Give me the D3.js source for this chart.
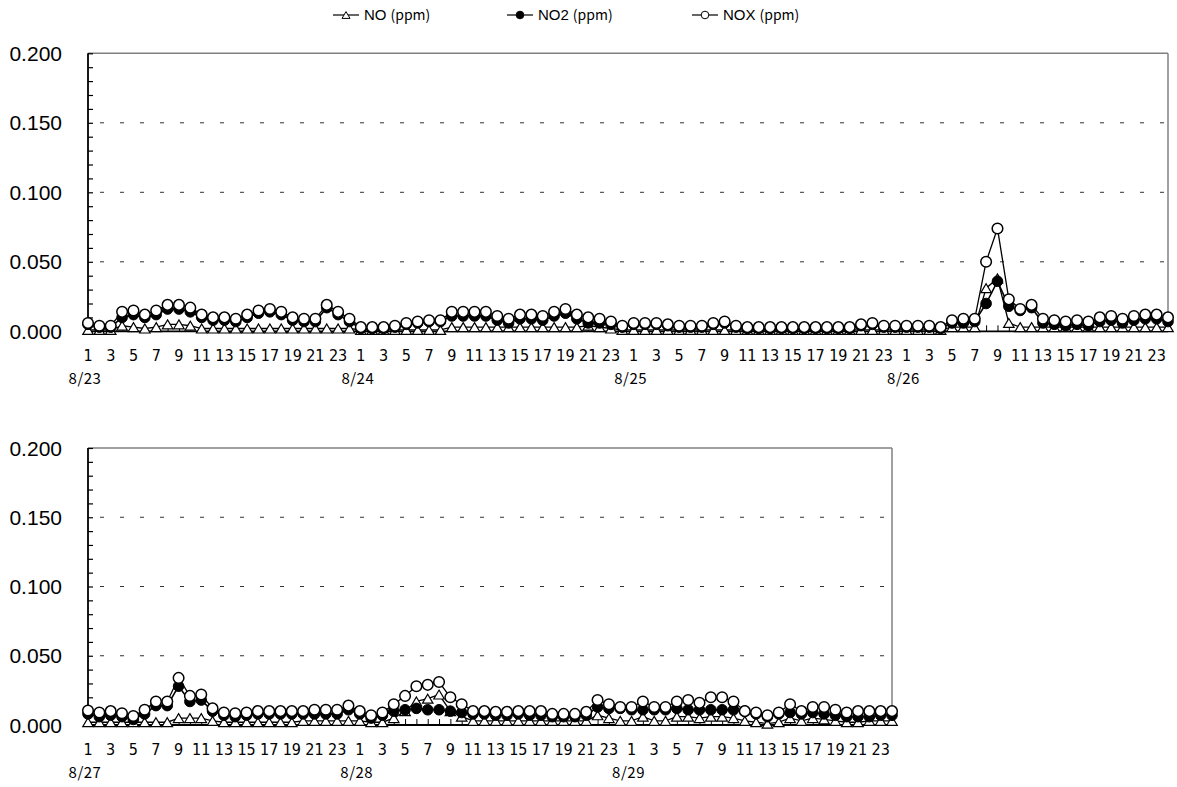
<!DOCTYPE html>
<html>
<head>
<meta charset="utf-8">
<script src="https://cdn.jsdelivr.net/npm/d3@7"></script>
<style>
  body { margin: 0; background: #fff; }
  svg { display: block; }
</style>
</head>
<body>
<div id="chart"></div>
<script>
// hours shown under each point (odd ones only get a label)
const hours = d3.range(1, 25);
const datesTop = ['8/23', '8/24', '8/25', '8/26'];
const datesBottom = ['8/27', '8/28', '8/29'];
const yTicks = [0, 0.05, 0.10, 0.15, 0.20];

// 8/23 - 8/26, hourly (ppm)
const noTop = [
  0.001, 0.001, 0.001, 0.004, 0.003, 0.002, 0.003, 0.005, 0.005, 0.004, 0.002, 0.002,
  0.002, 0.002, 0.002, 0.002, 0.002, 0.002, 0.002, 0.002, 0.002, 0.002, 0.002, 0.002,
  0.001, 0.001, 0.001, 0.001, 0.001, 0.001, 0.001, 0.001, 0.003, 0.003, 0.003, 0.003,
  0.003, 0.003, 0.003, 0.003, 0.003, 0.003, 0.003, 0.003, 0.004, 0.003, 0.002, 0.001,
  0.001, 0.001, 0.001, 0.001, 0.001, 0.001, 0.001, 0.001, 0.001, 0.001, 0.001, 0.001,
  0.001, 0.001, 0.001, 0.001, 0.001, 0.001, 0.001, 0.001, 0.001, 0.001, 0.001, 0.001,
  0.001, 0.001, 0.001, 0.001, 0.003, 0.003, 0.003, 0.031, 0.038, 0.006, 0.003, 0.003,
  0.003, 0.003, 0.003, 0.003, 0.003, 0.003, 0.003, 0.003, 0.003, 0.003, 0.003, 0.003
];
const no2Top = [
  0.005, 0.003, 0.003, 0.010, 0.012, 0.010, 0.012, 0.016, 0.016, 0.014, 0.010, 0.008,
  0.008, 0.007, 0.010, 0.013, 0.014, 0.012, 0.008, 0.007, 0.007, 0.017, 0.012, 0.007,
  0.002, 0.002, 0.002, 0.003, 0.005, 0.006, 0.007, 0.007, 0.011, 0.011, 0.011, 0.011,
  0.008, 0.006, 0.009, 0.009, 0.008, 0.011, 0.013, 0.009, 0.006, 0.006, 0.005, 0.003,
  0.005, 0.005, 0.005, 0.004, 0.003, 0.003, 0.003, 0.005, 0.006, 0.003, 0.002, 0.002,
  0.002, 0.002, 0.002, 0.002, 0.002, 0.002, 0.002, 0.002, 0.004, 0.005, 0.003, 0.003,
  0.003, 0.003, 0.003, 0.002, 0.006, 0.006, 0.007, 0.020, 0.036, 0.018, 0.015, 0.017,
  0.006, 0.005, 0.004, 0.005, 0.004, 0.007, 0.008, 0.006, 0.008, 0.009, 0.009, 0.007
];
const noxTop = [
  0.006, 0.004, 0.004, 0.014, 0.015, 0.012, 0.015, 0.019, 0.019, 0.017, 0.012, 0.010,
  0.010, 0.009, 0.012, 0.015, 0.016, 0.014, 0.010, 0.009, 0.009, 0.019, 0.014, 0.009,
  0.003, 0.003, 0.003, 0.004, 0.006, 0.007, 0.008, 0.008, 0.014, 0.014, 0.014, 0.014,
  0.011, 0.009, 0.012, 0.012, 0.011, 0.014, 0.016, 0.012, 0.010, 0.009, 0.007, 0.004,
  0.006, 0.006, 0.006, 0.005, 0.004, 0.004, 0.004, 0.006, 0.007, 0.004, 0.003, 0.003,
  0.003, 0.003, 0.003, 0.003, 0.003, 0.003, 0.003, 0.003, 0.005, 0.006, 0.004, 0.004,
  0.004, 0.004, 0.004, 0.003, 0.008, 0.009, 0.009, 0.050, 0.074, 0.023, 0.016, 0.019,
  0.009, 0.008, 0.007, 0.008, 0.007, 0.010, 0.011, 0.009, 0.011, 0.012, 0.012, 0.010
];

// 8/27 - 8/29, hourly (ppm)
const noBottom = [
  0.002, 0.002, 0.002, 0.002, 0.002, 0.002, 0.002, 0.002, 0.005, 0.005, 0.005, 0.003,
  0.002, 0.002, 0.002, 0.002, 0.002, 0.002, 0.002, 0.003, 0.003, 0.003, 0.003, 0.003,
  0.003, 0.002, 0.002, 0.005, 0.010, 0.017, 0.019, 0.022, 0.010, 0.006, 0.003, 0.003,
  0.003, 0.003, 0.003, 0.003, 0.003, 0.003, 0.003, 0.003, 0.003, 0.007, 0.005, 0.003,
  0.003, 0.006, 0.003, 0.003, 0.006, 0.006, 0.005, 0.006, 0.006, 0.005, 0.003, 0.002,
  0.001, 0.002, 0.005, 0.003, 0.005, 0.004, 0.003, 0.002, 0.002, 0.003, 0.003, 0.003
];
const no2Bottom = [
  0.008, 0.006, 0.007, 0.006, 0.004, 0.008, 0.014, 0.014, 0.028, 0.017, 0.018, 0.010,
  0.007, 0.006, 0.007, 0.008, 0.008, 0.008, 0.008, 0.008, 0.008, 0.008, 0.008, 0.011,
  0.008, 0.005, 0.007, 0.010, 0.011, 0.012, 0.011, 0.011, 0.010, 0.009, 0.008, 0.008,
  0.007, 0.007, 0.008, 0.007, 0.007, 0.006, 0.006, 0.006, 0.007, 0.013, 0.012, 0.012,
  0.011, 0.011, 0.011, 0.011, 0.012, 0.011, 0.011, 0.011, 0.011, 0.011, 0.010, 0.008,
  0.006, 0.008, 0.009, 0.008, 0.009, 0.008, 0.007, 0.006, 0.006, 0.006, 0.007, 0.007
];
const noxBottom = [
  0.0105, 0.009, 0.010, 0.0085, 0.0065, 0.011, 0.017, 0.017, 0.034, 0.021, 0.022, 0.012,
  0.009, 0.0085, 0.009, 0.010, 0.010, 0.010, 0.010, 0.010, 0.011, 0.011, 0.011, 0.014,
  0.010, 0.007, 0.009, 0.015, 0.021, 0.028, 0.029, 0.031, 0.020, 0.015, 0.010, 0.010,
  0.0095, 0.0095, 0.010, 0.010, 0.010, 0.008, 0.008, 0.008, 0.0095, 0.018, 0.015, 0.013,
  0.013, 0.017, 0.013, 0.013, 0.017, 0.018, 0.016, 0.020, 0.020, 0.017, 0.010, 0.009,
  0.007, 0.009, 0.015, 0.010, 0.013, 0.013, 0.011, 0.009, 0.010, 0.010, 0.010, 0.010
];

const W = 1177, H = 787;
const svg = d3.select('#chart').append('svg').attr('width', W).attr('height', H);

const numFont = "'Liberation Sans', Arial, sans-serif";
const narrowFont = "'Liberation Sans Narrow', 'Arial Narrow', 'DejaVu Sans Condensed', sans-serif";
const jpFont = "'Noto Sans CJK JP', 'Noto Sans', sans-serif";

function trianglePath(cx, cy, s) {
  const h = s * 0.85;
  return `M${cx},${cy - h / 2}L${cx + s / 2},${cy + h / 2}L${cx - s / 2},${cy + h / 2}Z`;
}

function panel(opts) {
  const { left, right, top, bottom, dates, no, no2, nox } = opts;
  const n = no.length;
  const g = svg.append('g');
  const x = d3.scalePoint().domain(d3.range(n)).range([left, right]);
  const y = d3.scaleLinear().domain([0, 0.2]).range([bottom, top]);

  // dashed gridlines
  g.selectAll('.grid').data(yTicks.filter(d => d > 0 && d < 0.2)).enter().append('line')
    .attr('x1', left).attr('x2', right).attr('y1', d => y(d)).attr('y2', d => y(d))
    .attr('stroke', '#333').attr('stroke-width', 1).attr('stroke-dasharray', '4,16')
    .attr('stroke-dashoffset', -12);

  // frame: top + right grey, left + bottom black
  g.append('line').attr('x1', left).attr('x2', right).attr('y1', y(0.2)).attr('y2', y(0.2))
    .attr('stroke', '#808080').attr('stroke-width', 1.5);
  g.append('line').attr('x1', right).attr('x2', right).attr('y1', y(0.2)).attr('y2', y(0))
    .attr('stroke', '#808080').attr('stroke-width', 1.5);

  // y axis with inward minor ticks
  const yAxis = d3.axisRight(y).tickValues(d3.range(0, 0.2001, 0.01)).tickSize(5).tickFormat('');
  g.append('g').attr('transform', `translate(${left},0)`).call(yAxis)
    .call(s => s.selectAll('.domain').remove())
    .selectAll('line').attr('stroke', '#000').attr('stroke-width', 1.2);
  g.append('line').attr('x1', left).attr('x2', left).attr('y1', y(0.2)).attr('y2', y(0))
    .attr('stroke', '#000').attr('stroke-width', 1.8);

  g.selectAll('.ylab').data(yTicks).enter().append('text')
    .attr('x', 62).attr('y', d => y(d)).attr('dy', '0.36em')
    .attr('text-anchor', 'end').attr('font-family', numFont).attr('font-size', 21)
    .attr('fill', '#000').text(d => d3.format('.3f')(d));

  // x axis: inward ticks at each hour
  const xAxis = d3.axisTop(x).tickSize(6).tickFormat('');
  g.append('g').attr('transform', `translate(0,${bottom})`).call(xAxis)
    .call(s => s.selectAll('.domain').remove())
    .selectAll('line').attr('stroke', '#000').attr('stroke-width', 1);
  g.append('line').attr('x1', left).attr('x2', right).attr('y1', bottom).attr('y2', bottom)
    .attr('stroke', '#000').attr('stroke-width', 1.8);

  const idx = d3.range(n);
  g.selectAll('.xlab').data(idx.filter(i => hours[i % 24] % 2 === 1)).enter().append('text')
    .attr('x', i => x(i)).attr('y', bottom + 30)
    .attr('text-anchor', 'middle').attr('font-family', narrowFont).attr('font-size', 16)
    .attr('fill', '#000').text(i => hours[i % 24]);
  g.selectAll('.dlab').data(dates).enter().append('text')
    .attr('x', (d, k) => x(k * 24) - 3).attr('y', bottom + 53)
    .attr('text-anchor', 'middle').attr('font-family', jpFont).attr('font-size', 15)
    .attr('letter-spacing', 0.5)
    .attr('fill', '#000').text(d => d);

  const line = d3.line().x((d, i) => x(i)).y(d => y(d));

  // NO
  g.append('path').datum(no).attr('d', line).attr('fill', 'none').attr('stroke', '#000').attr('stroke-width', 1.3);
  g.selectAll('.tri').data(no).enter().append('path')
    .attr('d', (d, i) => trianglePath(x(i), y(d), 10.5))
    .attr('fill', '#fff').attr('stroke', '#000').attr('stroke-width', 1.2);
  // NO2
  g.append('path').datum(no2).attr('d', line).attr('fill', 'none').attr('stroke', '#000').attr('stroke-width', 1.6);
  g.selectAll('.dot').data(no2).enter().append('circle')
    .attr('cx', (d, i) => x(i)).attr('cy', d => y(d)).attr('r', 5.3)
    .attr('fill', '#000').attr('stroke', '#000').attr('stroke-width', 1);
  // NOX
  g.append('path').datum(nox).attr('d', line).attr('fill', 'none').attr('stroke', '#000').attr('stroke-width', 1.3);
  g.selectAll('.ring').data(nox).enter().append('circle')
    .attr('cx', (d, i) => x(i)).attr('cy', d => y(d)).attr('r', 5.3)
    .attr('fill', '#fff').attr('stroke', '#000').attr('stroke-width', 1.5);
}

panel({ left: 88, right: 1168, top: 53.3, bottom: 331.3, dates: datesTop, no: noTop, no2: no2Top, nox: noxTop });
panel({ left: 88, right: 892, top: 448, bottom: 725, dates: datesBottom, no: noBottom, no2: no2Bottom, nox: noxBottom });

// legend
const legendItems = [
  { name: 'NO', x: 333, marker: 'tri' },
  { name: 'NO2', x: 507, marker: 'dot' },
  { name: 'NOX', x: 692, marker: 'ring' }
];
const lg = svg.append('g');
legendItems.forEach(it => {
  const cy = 15, cx = it.x + 13;
  lg.append('line').attr('x1', it.x).attr('x2', it.x + 26).attr('y1', cy).attr('y2', cy)
    .attr('stroke', '#000').attr('stroke-width', 1.2);
  if (it.marker === 'tri') {
    lg.append('path').attr('d', trianglePath(cx, cy, 8)).attr('fill', '#fff').attr('stroke', '#000').attr('stroke-width', 1);
  } else {
    lg.append('circle').attr('cx', cx).attr('cy', cy).attr('r', 3.8)
      .attr('fill', it.marker === 'dot' ? '#000' : '#fff').attr('stroke', '#000').attr('stroke-width', 1);
  }
  const t = lg.append('text').attr('x', it.x + 31).attr('y', cy + 5).attr('fill', '#000');
  t.append('tspan').attr('font-family', numFont).attr('font-size', 15).text(it.name);
  t.append('tspan').attr('font-family', jpFont).attr('font-size', 14).attr('dx', 4).text('(ppm)');
});
</script>
</body>
</html>
